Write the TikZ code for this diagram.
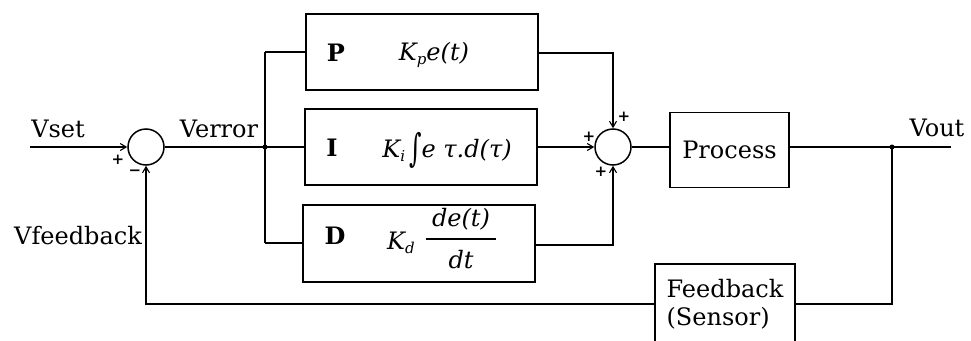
\documentclass[tikz,border=0pt]{standalone}
\usepackage{fontspec}
\usepackage{graphicx}
\setmainfont{DejaVu Serif}
\usetikzlibrary{arrows.meta}
\newcommand\mysub[1]{\raisebox{-0.35ex}{\fontsize{15}{17}\selectfont\itshape #1}}
\begin{document}
\begin{tikzpicture}[x=1pt,y=-1pt,
  line width=1.5pt,
  every node/.style={font=\fontsize{24}{28}\selectfont},
  blk/.style={draw,rectangle,inner sep=0pt},
  summer/.style={draw,circle,minimum size=36pt,inner sep=0pt},
  tip/.style={-{Straight Barb[length=6pt,width=7pt,line width=1.1pt]}},
  dot/.style={circle,fill,inner sep=0pt,minimum size=5pt},
  sgn/.style={font=\fontsize{15}{17}\selectfont\bfseries,inner sep=0pt},
  frm/.style={font=\fontsize{24}{28}\selectfont\itshape}]
\useasboundingbox (0,0) rectangle (971,340);
% summing junctions
\node[summer] (sumL) at (146,147) {};
\node[summer] (sumR) at (613,147) {};
% blocks
\node[blk,minimum width=232pt,minimum height=76pt] (P) at (422,52) {};
\node[blk,minimum width=232pt,minimum height=76pt] (I) at (421,147) {};
\node[blk,minimum width=232pt,minimum height=77pt] (D) at (419,243.5) {};
\node[blk,minimum width=119pt,minimum height=75pt] (proc) at (729.5,150) {Process};
\node[blk,minimum width=140pt,minimum height=80pt,align=left] (fb) at (725,304) {Feedback\\(Sensor)};
% block contents
\node (Pl) at (336,53) {\textbf{P}};
\node[frm] (Pf) at (434,55) {K\mysub{p}e(t)};
\node (Il) at (332,148) {\textbf{I}};
\node[frm] (If) at (447,150) {K\mysub{i}\,\raisebox{-0.3ex}{\scalebox{1}[1.6]{\upshape ∫}}e τ.d(τ)};
\node (Dl) at (335,236) {\textbf{D}};
\node[frm] (Dk) at (401,243) {K\mysub{d}};
\node[frm,inner sep=0pt] (Dn) at (461,219) {de(t)};
\node[frm,inner sep=0pt] (Dd) at (461,260) {dt};
\draw[line width=1.2pt] (426,239) -- (496,239);
% coordinates
\coordinate (vin) at (30,147);
\coordinate (jE) at (265,147);
\coordinate (jP) at (265,52);
\coordinate (jD) at (265,243);
\coordinate (cP) at (613,53);
\coordinate (cD) at (613,245);
\coordinate (jO) at (892,147);
\coordinate (vout) at (951,147);
\coordinate (cF) at (892,304);
\coordinate (cL) at (146,304);
% connectors
\draw[tip] (vin) -- (sumL.west);
\draw (sumL.east) -- (jE) -- (I.west);
\draw (jP) -- (jD);
\draw (jP) -- (P.west |- jP);
\draw (jD) -- (D.west |- jD);
\draw[tip] (P.east |- cP) -- (cP) -- (sumR.north);
\draw[tip] (I.east) -- (sumR.west);
\draw[tip] (D.east |- cD) -- (cD) -- (sumR.south);
\draw (sumR.east) -- (proc.west |- sumR.east);
\draw (proc.east |- jO) -- (jO) -- (vout);
\draw (jO) -- (cF) -- (fb.east |- cF);
\draw[tip] (fb.west |- cL) -- (cL) -- (sumL.south);
\node[dot] (dE) at (jE) {};
\node[dot] (dO) at (jO) {};
% labels
\node (lset) at (58,129) {Vset};
\node (lerr) at (219,129) {Verror};
\node (lout) at (937,128) {Vout};
\node (lfb) at (78,236) {Vfeedback};
% signs
\node[sgn] (s1) at (118,160) {+};
\node[sgn] (s2) at (135,173) {−};
\node[sgn] (s3) at (624,117) {+};
\node[sgn] (s4) at (589,137) {+};
\node[sgn] (s5) at (601,172) {+};
\end{tikzpicture}
\end{document}
